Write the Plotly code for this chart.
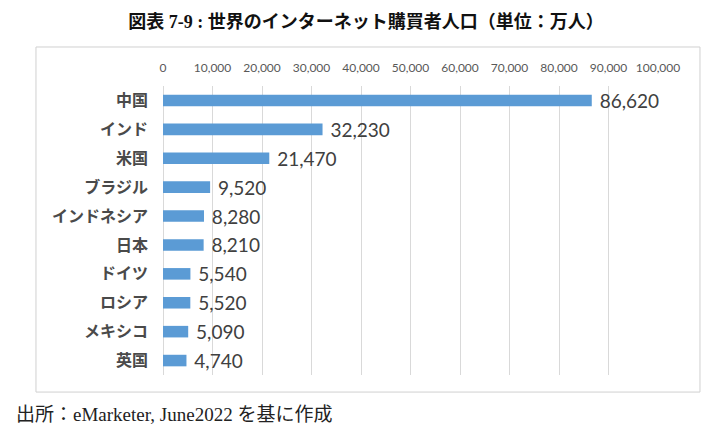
import plotly.graph_objects as go

categories = ["中国", "インド", "米国", "ブラジル", "インドネシア", "日本", "ドイツ", "ロシア", "メキシコ", "英国"]
values = [86620, 32230, 21470, 9520, 8280, 8210, 5540, 5520, 5090, 4740]
tick_vals = [0, 10000, 20000, 30000, 40000, 50000, 60000, 70000, 80000, 90000, 100000]

fig = go.Figure(go.Bar(
    y=categories, x=values, orientation="h",
    marker=dict(color="#5B9BD5", line=dict(width=0)),
    width=0.4,
    text=["\u00a0" + f"{v:,}" for v in values],
    textposition="outside",
    constraintext="none",
    textfont=dict(family="Lato, Open Sans, sans-serif", size=19, color="#404040"),
    cliponaxis=False,
))

fig.update_layout(
    width=721, height=436,
    margin=dict(l=163, r=63, t=86, b=61),
    paper_bgcolor="white", plot_bgcolor="white",
    showlegend=False,
    title=dict(text="<b>図表 7-9 : 世界のインターネット購買者人口（単位：万人）</b>",
               x=366 / 721, xref="container", xanchor="center", y=0.95, yanchor="middle",
               font=dict(family="Liberation Serif, Noto Sans CJK JP", size=18, color="#111")),
    xaxis=dict(side="top", range=[0, 100000], tickvals=tick_vals, tickformat=",",
               showgrid=True, gridcolor="#d9d9d9", gridwidth=1,
               zeroline=True, zerolinecolor="#d9d9d9", zerolinewidth=1,
               showline=False, ticks="", ticklabelstandoff=11,
               tickfont=dict(family="Lato, Open Sans, sans-serif", size=12, color="#595959")),
    yaxis=dict(autorange="reversed", showgrid=False, showline=False, ticks="",
               ticklabelstandoff=14,
               tickfont=dict(family="Noto Sans CJK JP", size=16, color="#4a4a4a", weight="bold")),
    shapes=[dict(type="rect", xref="paper", yref="paper",
                 x0=-0.2566, x1=1.0848, y0=-0.059, y1=1.135,
                 line=dict(color="#d0d0d0", width=1), fillcolor="rgba(0,0,0,0)", layer="below")],
    annotations=[dict(text="出所：eMarketer, June2022 を基に作成", xref="paper", yref="paper",
                      x=-0.301, y=-0.135, xanchor="left", yanchor="middle", showarrow=False,
                      font=dict(family="Liberation Serif, Noto Sans CJK JP", size=19, color="#222"))],
)

fig.write_html("out.html")
